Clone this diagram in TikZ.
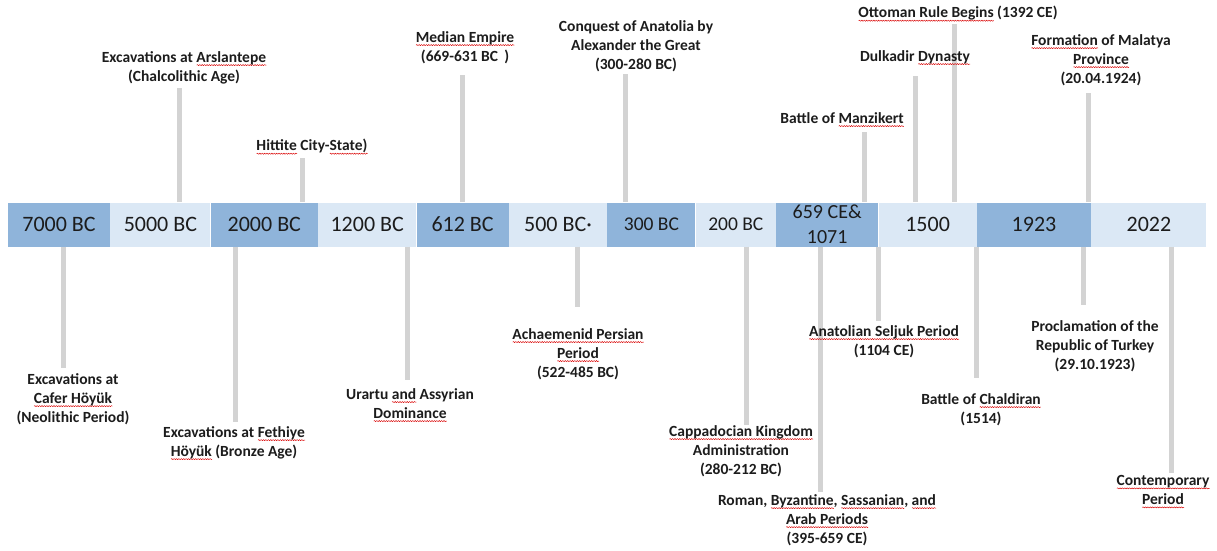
\documentclass[tikz,border=0pt]{standalone}
\usepackage{fontspec}
\setmainfont{Carlito}
\usetikzlibrary{positioning,decorations.pathmorphing}

\definecolor{bardark}{RGB}{143,180,218}
\definecolor{barlight}{RGB}{219,232,245}
\definecolor{stemgray}{RGB}{211,211,211}
\definecolor{inkgray}{RGB}{28,28,28}

% red wavy mark under words, as in the source screenshot
\newlength{\spllen}
\newcommand{\spl}[1]{\settowidth{\spllen}{#1}\rlap{\tikz[baseline=0pt]
    \draw[red!85!black, line width=0.45pt, decorate,
      decoration={snake, amplitude=0.55pt, segment length=2.4pt}]
    (0pt,-3pt) -- (\spllen,-3pt);}#1}

\begin{document}
\begin{tikzpicture}[x=1pt,y=-1pt,
    yr/.style={inner sep=0pt, minimum height=44pt, text=inkgray,
      font=\fontsize{22}{24}\selectfont},
    dk/.style={yr, fill=bardark},
    lt/.style={yr, fill=barlight},
    lbl/.style={align=center, inner sep=0pt, anchor=north, text=inkgray,
      font=\fontsize{15.5}{19}\selectfont\bfseries},
    stem/.style={line width=5pt, stemgray}]

    \useasboundingbox (0,0) rectangle (1217,550);

    % year boxes, left to right
    \node[dk, minimum width=102pt] (Y1) at (59,224.5) {7000 BC};
    \node[lt, minimum width=100pt, right=0pt of Y1] (Y2) {5000 BC};
    \node[dk, minimum width=107pt, right=0pt of Y2] (Y3) {2000 BC};
    \node[lt, minimum width=98pt, right=0pt of Y3] (Y4) {1200 BC};
    \node[dk, minimum width=92pt, right=0pt of Y4] (Y5) {612 BC};
    \node[lt, minimum width=98pt, right=0pt of Y5] (Y6) {500 BC·};
    \node[dk, minimum width=88pt, right=0pt of Y6,
      font=\fontsize{19.5}{24}\selectfont] (Y7) {300 BC};
    \node[lt, minimum width=80pt, right=0pt of Y7,
      font=\fontsize{19.5}{24}\selectfont] (Y8) {200 BC};
    \node[dk, minimum width=102pt, right=0pt of Y8, align=center,
      font=\fontsize{20}{25}\selectfont] (Y9) {659 CE\&\\1071};
    \node[lt, minimum width=98pt, right=0pt of Y9] (Y10) {1500};
    \node[dk, minimum width=114pt, right=0pt of Y10] (Y11) {1923};
    \node[lt, minimum width=115pt, right=0pt of Y11] (Y12) {2022};

    % free ends of the stems
    \coordinate (a1) at (179,88);
    \coordinate (a2) at (302,158);
    \coordinate (a3) at (462,75);
    \coordinate (a4) at (625,74);
    \coordinate (a5) at (864,132);
    \coordinate (a6) at (915,76);
    \coordinate (a7) at (954,24);
    \coordinate (a8) at (1088,93);
    \coordinate (b1) at (63,368);
    \coordinate (b2) at (235,422);
    \coordinate (b3) at (407,380);
    \coordinate (b4) at (577,307);
    \coordinate (b5) at (746,425);
    \coordinate (b6) at (820,492);
    \coordinate (b7) at (878,321);
    \coordinate (b8) at (976,378);
    \coordinate (b9) at (1083,305);
    \coordinate (b10) at (1171,473);

    \begin{scope}[stem]
        \foreach \a/\y in {a1/Y2, a2/Y3, a3/Y5, a4/Y7, a5/Y9, a6/Y10, a7/Y10, a8/Y11}
        \draw (\a) -- (\a |- \y.north);
        \foreach \b/\y in {b1/Y1, b2/Y3, b3/Y4, b4/Y6, b5/Y8, b6/Y9, b7/Y10, b8/Y11, b9/Y11, b10/Y12}
        \draw (\b |- \y.south) -- (\b);
    \end{scope}

    % events above the line
    \node[lbl] (A1) at (184,51) {Excavations at \spl{Arslantepe}\\(Chalcolithic Age)};
    \node[lbl] (A2) at (312,139) {\spl{Hittite} City-\spl{State)}};
    \node[lbl] (A3) at (465,31) {\spl{Median Empire}\\(669-631 BC\hspace{0.4em})};
    \node[lbl] (A4) at (636,20) {Conquest of Anatolia by\\Alexander the Great\\(300-280 BC)};
    \node[lbl] (A5) at (842,112) {Battle of \spl{Manzikert}};
    \node[lbl] (A6) at (915,50) {Dulkadir \spl{Dynasty}};
    \node[lbl] (A7) at (958,6) {\spl{Ottoman Rule Begins} (1392 CE)};
    \node[lbl] (A8) at (1101,34) {\spl{Formation} of Malatya\\\spl{Province}\\(20.04.1924)};

    % events below the line
    \node[lbl] (B1) at (73,373) {Excavations at\\\spl{Cafer Höyük}\\(Neolithic Period)};
    \node[lbl] (B2) at (234,426) {Excavations at \spl{Fethiye}\\\spl{Höyük} (Bronze Age)};
    \node[lbl] (B3) at (410,388) {Urartu \spl{and} Assyrian\\\spl{Dominance}};
    \node[lbl] (B4) at (578,328) {\spl{Achaemenid Persian}\\\spl{Period}\\(522-485 BC)};
    \node[lbl] (B5) at (741,425) {\spl{Cappadocian Kingdom}\\Administration\\(280-212 BC)};
    \node[lbl] (B6) at (827,494) {Roman, \spl{Byzantine}, \spl{Sassanian}, \spl{and}\\\spl{Arab Periods}\\(395-659 CE)};
    \node[lbl] (B7) at (884,325) {\spl{Anatolian Seljuk Period}\\(1104 CE)};
    \node[lbl] (B8) at (981,393) {Battle of \spl{Chaldiran}\\(1514)};
    \node[lbl] (B9) at (1095,320) {Proclamation of the\\Republic of Turkey\\(29.10.1923)};
    \node[lbl] (B10) at (1163,475) {\spl{Contemporary}\\\spl{Period}};

\end{tikzpicture}
\end{document}
